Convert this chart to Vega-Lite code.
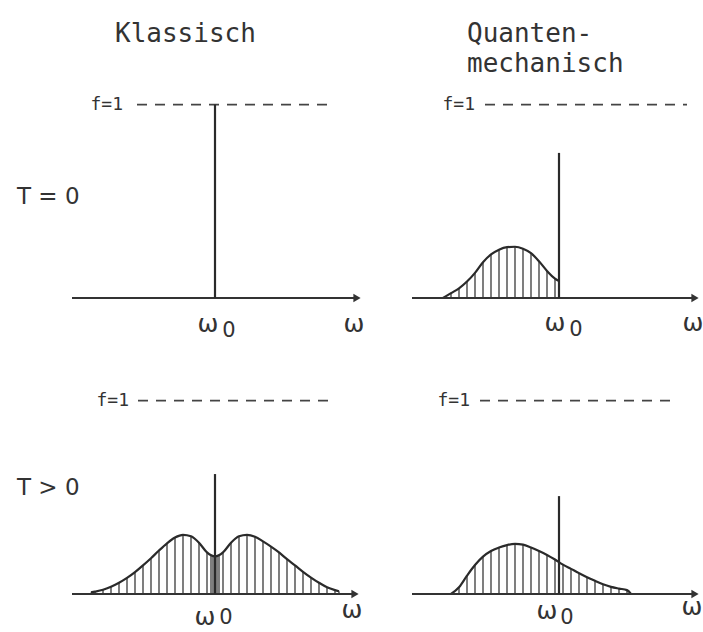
{
  "$schema": "https://vega.github.io/schema/vega-lite/v6.json",
  "padding": {"top": 2, "left": 0, "right": 0, "bottom": 0},
  "bounds": "flush",
  "spacing": {"row": 0, "column": 4},
  "background": "white",
  "data": {
    "values": [
      {"m": "Klassisch", "t": "T = 0", "typ": "achse", "x": -1.43, "x2": 1.42, "f": 0},
      {"m": "Klassisch", "t": "T = 0", "typ": "niveau", "x": -0.78, "x2": 1.13, "f": 1},
      {"m": "Klassisch", "t": "T = 0", "typ": "linie", "x": 0, "f": 1},
      {"m": "Klassisch", "t": "T = 0", "typ": "text_f", "x": -0.89, "f": 1, "text": "f=1"},
      {"m": "Klassisch", "t": "T = 0", "typ": "marke", "x": -0.07, "f": -0.134, "text": "ω"},
      {"m": "Klassisch", "t": "T = 0", "typ": "index", "x": 0.14, "f": -0.17, "text": "0"},
      {"m": "Klassisch", "t": "T = 0", "typ": "omega", "x": 1.39, "f": -0.134, "text": "ω"},
      {"m": "Klassisch", "t": "T = 0", "typ": "zeile", "x": -1.98, "f": 0.52, "text": "T = 0"},
      {"m": "Klassisch", "t": "T = 0", "typ": "spalte", "x": -1.0, "f": 1.323, "text": "Klassisch"},

      {"m": "Quantenmechanisch", "t": "T = 0", "typ": "achse", "x": -1.47, "x2": 1.36, "f": 0},
      {"m": "Quantenmechanisch", "t": "T = 0", "typ": "niveau", "x": -0.74, "x2": 1.28, "f": 1},
      {"m": "Quantenmechanisch", "t": "T = 0", "typ": "linie", "x": 0, "f": 0.75},
      {"m": "Quantenmechanisch", "t": "T = 0", "typ": "text_f", "x": -0.81, "f": 1, "text": "f=1"},
      {"m": "Quantenmechanisch", "t": "T = 0", "typ": "marke", "x": -0.04, "f": -0.13, "text": "ω"},
      {"m": "Quantenmechanisch", "t": "T = 0", "typ": "index", "x": 0.17, "f": -0.165, "text": "0"},
      {"m": "Quantenmechanisch", "t": "T = 0", "typ": "omega", "x": 1.34, "f": -0.13, "text": "ω"},
      {"m": "Quantenmechanisch", "t": "T = 0", "typ": "spalte", "x": -0.92, "f": 1.323, "text": "Quanten-\nmechanisch"},
      {"m": "Quantenmechanisch", "t": "T = 0", "typ": "kurve", "x": -1.16, "f": 0.0},
      {"m": "Quantenmechanisch", "t": "T = 0", "typ": "kurve", "x": -1.08, "f": 0.025},
      {"m": "Quantenmechanisch", "t": "T = 0", "typ": "kurve", "x": -1.0, "f": 0.05},
      {"m": "Quantenmechanisch", "t": "T = 0", "typ": "kurve", "x": -0.92, "f": 0.085},
      {"m": "Quantenmechanisch", "t": "T = 0", "typ": "kurve", "x": -0.84, "f": 0.13},
      {"m": "Quantenmechanisch", "t": "T = 0", "typ": "kurve", "x": -0.76, "f": 0.185},
      {"m": "Quantenmechanisch", "t": "T = 0", "typ": "kurve", "x": -0.68, "f": 0.225},
      {"m": "Quantenmechanisch", "t": "T = 0", "typ": "kurve", "x": -0.6, "f": 0.25},
      {"m": "Quantenmechanisch", "t": "T = 0", "typ": "kurve", "x": -0.52, "f": 0.263},
      {"m": "Quantenmechanisch", "t": "T = 0", "typ": "kurve", "x": -0.44, "f": 0.265},
      {"m": "Quantenmechanisch", "t": "T = 0", "typ": "kurve", "x": -0.36, "f": 0.255},
      {"m": "Quantenmechanisch", "t": "T = 0", "typ": "kurve", "x": -0.28, "f": 0.232},
      {"m": "Quantenmechanisch", "t": "T = 0", "typ": "kurve", "x": -0.2, "f": 0.19},
      {"m": "Quantenmechanisch", "t": "T = 0", "typ": "kurve", "x": -0.12, "f": 0.14},
      {"m": "Quantenmechanisch", "t": "T = 0", "typ": "kurve", "x": -0.04, "f": 0.1},
      {"m": "Quantenmechanisch", "t": "T = 0", "typ": "kurve", "x": 0.0, "f": 0.087},

      {"m": "Klassisch", "t": "T > 0", "typ": "achse", "x": -1.43, "x2": 1.4, "f": 0},
      {"m": "Klassisch", "t": "T > 0", "typ": "niveau", "x": -0.77, "x2": 1.18, "f": 1},
      {"m": "Klassisch", "t": "T > 0", "typ": "linie", "x": 0, "f": 0.62},
      {"m": "Klassisch", "t": "T > 0", "typ": "text_f", "x": -0.83, "f": 1, "text": "f=1"},
      {"m": "Klassisch", "t": "T > 0", "typ": "marke", "x": -0.1, "f": -0.12, "text": "ω"},
      {"m": "Klassisch", "t": "T > 0", "typ": "index", "x": 0.11, "f": -0.125, "text": "0"},
      {"m": "Klassisch", "t": "T > 0", "typ": "omega", "x": 1.37, "f": -0.083, "text": "ω"},
      {"m": "Klassisch", "t": "T > 0", "typ": "zeile", "x": -1.98, "f": 0.55, "text": "T > 0"},
      {"m": "Klassisch", "t": "T > 0", "typ": "kurve", "x": -1.24, "f": 0.008},
      {"m": "Klassisch", "t": "T > 0", "typ": "kurve", "x": -1.2, "f": 0.012},
      {"m": "Klassisch", "t": "T > 0", "typ": "kurve", "x": -1.12, "f": 0.022},
      {"m": "Klassisch", "t": "T > 0", "typ": "kurve", "x": -1.04, "f": 0.038},
      {"m": "Klassisch", "t": "T > 0", "typ": "kurve", "x": -0.96, "f": 0.058},
      {"m": "Klassisch", "t": "T > 0", "typ": "kurve", "x": -0.88, "f": 0.083},
      {"m": "Klassisch", "t": "T > 0", "typ": "kurve", "x": -0.8, "f": 0.113},
      {"m": "Klassisch", "t": "T > 0", "typ": "kurve", "x": -0.72, "f": 0.148},
      {"m": "Klassisch", "t": "T > 0", "typ": "kurve", "x": -0.64, "f": 0.185},
      {"m": "Klassisch", "t": "T > 0", "typ": "kurve", "x": -0.56, "f": 0.225},
      {"m": "Klassisch", "t": "T > 0", "typ": "kurve", "x": -0.48, "f": 0.262},
      {"m": "Klassisch", "t": "T > 0", "typ": "kurve", "x": -0.4, "f": 0.292},
      {"m": "Klassisch", "t": "T > 0", "typ": "kurve", "x": -0.32, "f": 0.306},
      {"m": "Klassisch", "t": "T > 0", "typ": "kurve", "x": -0.24, "f": 0.298},
      {"m": "Klassisch", "t": "T > 0", "typ": "kurve", "x": -0.16, "f": 0.265},
      {"m": "Klassisch", "t": "T > 0", "typ": "kurve", "x": -0.08, "f": 0.215},
      {"m": "Klassisch", "t": "T > 0", "typ": "kurve", "x": 0.0, "f": 0.194},
      {"m": "Klassisch", "t": "T > 0", "typ": "kurve", "x": 0.08, "f": 0.215},
      {"m": "Klassisch", "t": "T > 0", "typ": "kurve", "x": 0.16, "f": 0.265},
      {"m": "Klassisch", "t": "T > 0", "typ": "kurve", "x": 0.24, "f": 0.298},
      {"m": "Klassisch", "t": "T > 0", "typ": "kurve", "x": 0.32, "f": 0.306},
      {"m": "Klassisch", "t": "T > 0", "typ": "kurve", "x": 0.4, "f": 0.296},
      {"m": "Klassisch", "t": "T > 0", "typ": "kurve", "x": 0.48, "f": 0.272},
      {"m": "Klassisch", "t": "T > 0", "typ": "kurve", "x": 0.56, "f": 0.245},
      {"m": "Klassisch", "t": "T > 0", "typ": "kurve", "x": 0.64, "f": 0.215},
      {"m": "Klassisch", "t": "T > 0", "typ": "kurve", "x": 0.72, "f": 0.18},
      {"m": "Klassisch", "t": "T > 0", "typ": "kurve", "x": 0.8, "f": 0.148},
      {"m": "Klassisch", "t": "T > 0", "typ": "kurve", "x": 0.88, "f": 0.115},
      {"m": "Klassisch", "t": "T > 0", "typ": "kurve", "x": 0.96, "f": 0.085},
      {"m": "Klassisch", "t": "T > 0", "typ": "kurve", "x": 1.04, "f": 0.058},
      {"m": "Klassisch", "t": "T > 0", "typ": "kurve", "x": 1.12, "f": 0.035},
      {"m": "Klassisch", "t": "T > 0", "typ": "kurve", "x": 1.2, "f": 0.02},
      {"m": "Klassisch", "t": "T > 0", "typ": "kurve", "x": 1.24, "f": 0.014},
      {"m": "Klassisch", "t": "T > 0", "typ": "schraffur", "x": -0.04, "f": 0.198},
      {"m": "Klassisch", "t": "T > 0", "typ": "schraffur", "x": -0.02, "f": 0.195},
      {"m": "Klassisch", "t": "T > 0", "typ": "schraffur", "x": 0.02, "f": 0.195},
      {"m": "Klassisch", "t": "T > 0", "typ": "schraffur", "x": 0.04, "f": 0.198},

      {"m": "Quantenmechanisch", "t": "T > 0", "typ": "achse", "x": -1.47, "x2": 1.36, "f": 0},
      {"m": "Quantenmechanisch", "t": "T > 0", "typ": "niveau", "x": -0.79, "x2": 1.16, "f": 1},
      {"m": "Quantenmechanisch", "t": "T > 0", "typ": "linie", "x": 0, "f": 0.506},
      {"m": "Quantenmechanisch", "t": "T > 0", "typ": "text_f", "x": -0.86, "f": 1, "text": "f=1"},
      {"m": "Quantenmechanisch", "t": "T > 0", "typ": "marke", "x": -0.12, "f": -0.088, "text": "ω"},
      {"m": "Quantenmechanisch", "t": "T > 0", "typ": "index", "x": 0.08, "f": -0.125, "text": "0"},
      {"m": "Quantenmechanisch", "t": "T > 0", "typ": "omega", "x": 1.33, "f": -0.065, "text": "ω"},
      {"m": "Quantenmechanisch", "t": "T > 0", "typ": "kurve", "x": -1.08, "f": 0.0},
      {"m": "Quantenmechanisch", "t": "T > 0", "typ": "kurve", "x": -1.0, "f": 0.035},
      {"m": "Quantenmechanisch", "t": "T > 0", "typ": "kurve", "x": -0.92, "f": 0.095},
      {"m": "Quantenmechanisch", "t": "T > 0", "typ": "kurve", "x": -0.84, "f": 0.15},
      {"m": "Quantenmechanisch", "t": "T > 0", "typ": "kurve", "x": -0.76, "f": 0.193},
      {"m": "Quantenmechanisch", "t": "T > 0", "typ": "kurve", "x": -0.68, "f": 0.222},
      {"m": "Quantenmechanisch", "t": "T > 0", "typ": "kurve", "x": -0.6, "f": 0.24},
      {"m": "Quantenmechanisch", "t": "T > 0", "typ": "kurve", "x": -0.52, "f": 0.253},
      {"m": "Quantenmechanisch", "t": "T > 0", "typ": "kurve", "x": -0.44, "f": 0.259},
      {"m": "Quantenmechanisch", "t": "T > 0", "typ": "kurve", "x": -0.36, "f": 0.255},
      {"m": "Quantenmechanisch", "t": "T > 0", "typ": "kurve", "x": -0.28, "f": 0.24},
      {"m": "Quantenmechanisch", "t": "T > 0", "typ": "kurve", "x": -0.2, "f": 0.222},
      {"m": "Quantenmechanisch", "t": "T > 0", "typ": "kurve", "x": -0.12, "f": 0.202},
      {"m": "Quantenmechanisch", "t": "T > 0", "typ": "kurve", "x": -0.04, "f": 0.178},
      {"m": "Quantenmechanisch", "t": "T > 0", "typ": "kurve", "x": 0.04, "f": 0.152},
      {"m": "Quantenmechanisch", "t": "T > 0", "typ": "kurve", "x": 0.12, "f": 0.13},
      {"m": "Quantenmechanisch", "t": "T > 0", "typ": "kurve", "x": 0.2, "f": 0.108},
      {"m": "Quantenmechanisch", "t": "T > 0", "typ": "kurve", "x": 0.28, "f": 0.087},
      {"m": "Quantenmechanisch", "t": "T > 0", "typ": "kurve", "x": 0.36, "f": 0.068},
      {"m": "Quantenmechanisch", "t": "T > 0", "typ": "kurve", "x": 0.44, "f": 0.05},
      {"m": "Quantenmechanisch", "t": "T > 0", "typ": "kurve", "x": 0.52, "f": 0.037},
      {"m": "Quantenmechanisch", "t": "T > 0", "typ": "kurve", "x": 0.6, "f": 0.028},
      {"m": "Quantenmechanisch", "t": "T > 0", "typ": "kurve", "x": 0.68, "f": 0.02},
      {"m": "Quantenmechanisch", "t": "T > 0", "typ": "kurve", "x": 0.72, "f": 0.0}
    ]
  },
  "facet": {
    "column": {"field": "m", "type": "nominal", "sort": ["Klassisch", "Quantenmechanisch"], "header": null},
    "row": {"field": "t", "type": "nominal", "sort": ["T = 0", "T > 0"], "header": null}
  },
  "spec": {
    "width": 340,
    "height": 296,
    "encoding": {
      "x": {"field": "x", "type": "quantitative", "scale": {"domain": [-2.15, 1.25], "nice": false, "zero": false}, "axis": null},
      "y": {"field": "f", "type": "quantitative", "scale": {"domain": [0, 1.53], "nice": false, "zero": false}, "axis": null}
    },
    "layer": [
      {
        "transform": [{"filter": "datum.typ === 'kurve' || datum.typ === 'schraffur'"}],
        "mark": {"type": "rule", "color": "#3a3a3a", "strokeWidth": 1.3},
        "encoding": {"y2": {"datum": 0}}
      },
      {
        "transform": [{"filter": "datum.typ === 'kurve'"}],
        "mark": {"type": "line", "interpolate": "monotone", "color": "#2a2a2a", "strokeWidth": 2.2}
      },
      {
        "transform": [{"filter": "datum.typ === 'achse'"}],
        "mark": {"type": "rule", "color": "#333333", "strokeWidth": 2},
        "encoding": {"x2": {"field": "x2"}}
      },
      {
        "transform": [{"filter": "datum.typ === 'achse'"}],
        "mark": {"type": "point", "shape": "triangle-right", "filled": true, "color": "#333333", "size": 70, "opacity": 1},
        "encoding": {"x": {"field": "x2", "type": "quantitative"}}
      },
      {
        "transform": [{"filter": "datum.typ === 'niveau'"}],
        "mark": {"type": "rule", "color": "#444444", "strokeWidth": 1.7, "strokeDash": [10, 8]},
        "encoding": {"x2": {"field": "x2"}}
      },
      {
        "transform": [{"filter": "datum.typ === 'linie'"}],
        "mark": {"type": "rule", "color": "#2a2a2a", "strokeWidth": 2.2},
        "encoding": {"y2": {"datum": 0}}
      },
      {
        "transform": [{"filter": "datum.typ === 'text_f'"}],
        "mark": {"type": "text", "align": "right", "baseline": "middle", "dx": -3, "fontSize": 18, "font": "DejaVu Sans Mono", "color": "#333333"},
        "encoding": {"text": {"field": "text"}}
      },
      {
        "transform": [{"filter": "datum.typ === 'marke' || datum.typ === 'omega'"}],
        "mark": {"type": "text", "align": "center", "baseline": "middle", "fontSize": 25, "font": "DejaVu Sans", "color": "#333333"},
        "encoding": {"text": {"field": "text"}}
      },
      {
        "transform": [{"filter": "datum.typ === 'index'"}],
        "mark": {"type": "text", "align": "center", "baseline": "middle", "fontSize": 21, "font": "DejaVu Sans", "color": "#333333"},
        "encoding": {"text": {"field": "text"}}
      },
      {
        "transform": [{"filter": "datum.typ === 'zeile'"}],
        "mark": {"type": "text", "align": "left", "baseline": "middle", "fontSize": 23, "font": "DejaVu Sans", "color": "#333333"},
        "encoding": {"text": {"field": "text"}}
      },
      {
        "transform": [{"filter": "datum.typ === 'spalte'"}],
        "mark": {"type": "text", "align": "left", "baseline": "alphabetic", "fontSize": 26, "lineHeight": 30, "lineBreak": "\n", "font": "DejaVu Sans Mono", "color": "#333333"},
        "encoding": {"text": {"field": "text"}}
      }
    ]
  },
  "config": {"view": {"stroke": null}}
}
